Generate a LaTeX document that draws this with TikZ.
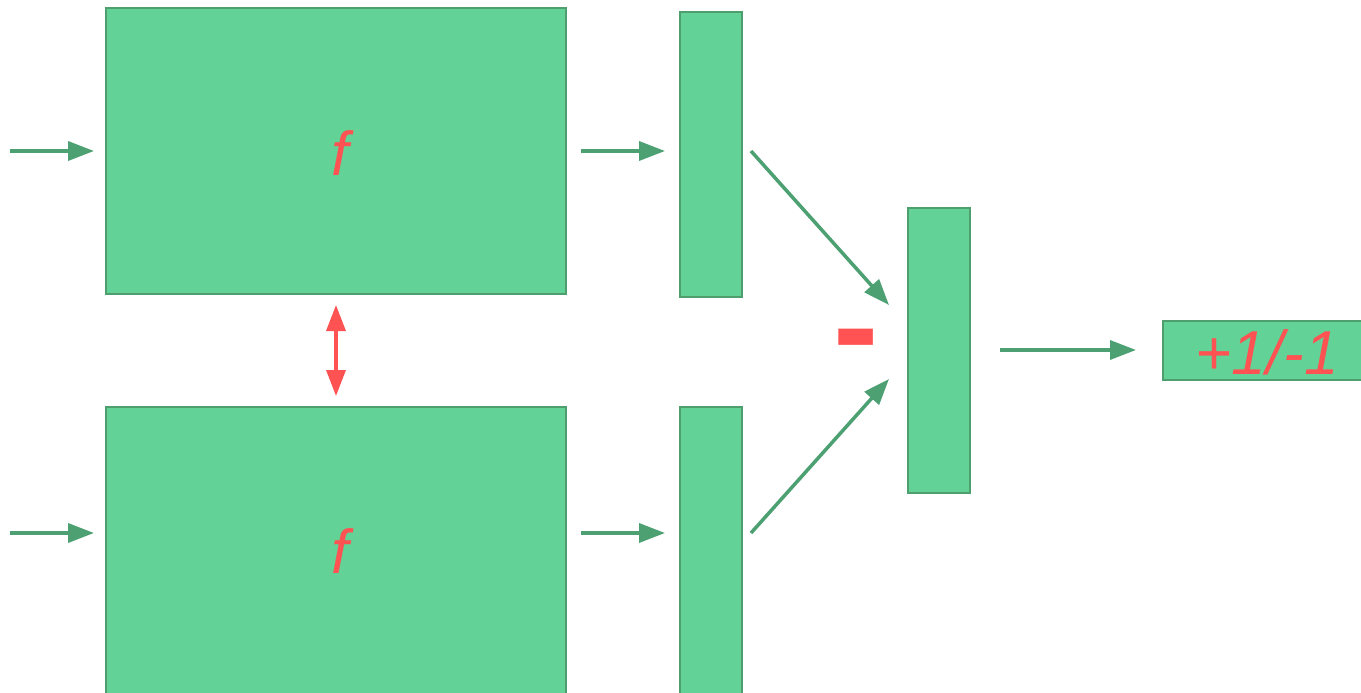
\documentclass[tikz,border=0pt]{standalone}
\usepackage{fontspec}
\setmainfont{Liberation Sans}
\usetikzlibrary{arrows.meta}
\definecolor{boxfill}{HTML}{63D297}
\definecolor{boxline}{HTML}{4E9E6E}
\definecolor{arrowgreen}{HTML}{4CA072}
\definecolor{labelred}{HTML}{FF5252}
\tikzset{
  blockbox/.style={draw=boxline, fill=boxfill, line width=1.5pt, inner sep=0pt},
  flowarrow/.style={draw=arrowgreen, line width=3.5pt, -{Triangle[length=26pt,width=19pt]}},
  redarrow/.style={draw=labelred, line width=3.5pt, {Triangle[length=26pt,width=19pt]}-{Triangle[length=26pt,width=19pt]}},
  redlabel/.style={text=labelred, font=\fontsize{62}{62}\selectfont\itshape, inner sep=0pt}
}
\begin{document}
\begin{tikzpicture}[x=1pt,y=-1pt]
\useasboundingbox (0,0) rectangle (1361,693);
% main boxes
\draw[blockbox] (106,8) rectangle (566,294);
\draw[blockbox] (106,407) rectangle (566,700);
\node[redlabel] (f1) at (340,153) {f};
\node[redlabel] (f2) at (340,551) {f};
% bars
\draw[blockbox] (680,12) rectangle (742,297);
\draw[blockbox] (680,407) rectangle (742,700);
\draw[blockbox] (908,208) rectangle (970,493);
% output box
\draw[blockbox] (1163,321) rectangle (1370,380);
\node[redlabel] (out) at (1267,352) {+1/-1};
% minus
\node[text=labelred, font=\fontsize{136}{136}\selectfont\bfseries, inner sep=0pt] (minus) at (856,351) {-};
% coordinates for arrows
\coordinate (a1s) at (10,151); \coordinate (a1e) at (94,151);
\coordinate (a2s) at (581,151); \coordinate (a2e) at (665,151);
\coordinate (a3s) at (10,533); \coordinate (a3e) at (94,533);
\coordinate (a4s) at (581,533); \coordinate (a4e) at (665,533);
\coordinate (a5s) at (751,151); \coordinate (a5e) at (889,305);
\coordinate (a6s) at (751,533); \coordinate (a6e) at (889,379);
\coordinate (a7s) at (1000,350); \coordinate (a7e) at (1136,350);
\coordinate (rs) at (336,305); \coordinate (re) at (336,396);
\draw[flowarrow] (a1s) -- (a1e);
\draw[flowarrow] (a2s) -- (a2e);
\draw[flowarrow] (a3s) -- (a3e);
\draw[flowarrow] (a4s) -- (a4e);
\draw[flowarrow] (a5s) -- (a5e);
\draw[flowarrow] (a6s) -- (a6e);
\draw[flowarrow] (a7s) -- (a7e);
\draw[redarrow] (rs) -- (re);
\end{tikzpicture}
\end{document}
